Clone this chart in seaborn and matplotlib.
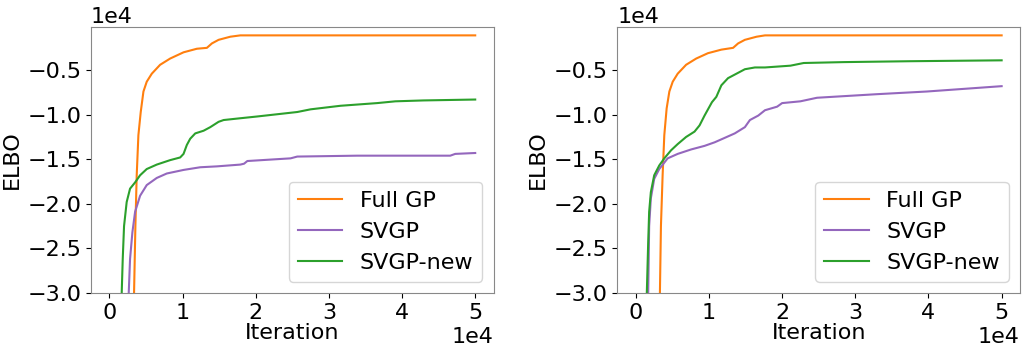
import matplotlib
matplotlib.use("Agg")
import matplotlib.pyplot as plt
from matplotlib.ticker import MultipleLocator
import seaborn as sns
import pandas as pd

# left panel
left_full_x = [0, 3380, 3560, 3740, 3970, 4290, 4660, 5110, 5800, 6940, 8310, 10140, 11960, 13330, 14020, 14930,
               16530, 17900, 50000]
left_full_y = [-200000, -29900, -22500, -16800, -12300, -9700, -7400, -6300, -5400, -4400, -3700, -3000, -2600,
               -2500, -2000, -1600, -1250, -1100, -1100]
left_svgp_x = [0, 2650, 2830, 3150, 3520, 4200, 5110, 6480, 7850, 10140, 12420, 14700, 17900, 18410, 18860, 24770,
               25680, 33860, 46590, 47270, 50000]
left_svgp_y = [-200000, -30000, -26200, -23200, -20900, -19100, -17900, -17100, -16600, -16200, -15900, -15800,
               -15600, -15500, -15200, -14900, -14700, -14600, -14600, -14400, -14300]
left_new_x = [0, 1690, 1830, 2010, 2370, 2830, 3520, 4200, 5110, 6480, 8310, 9680, 10140, 10590, 11050, 11740, 12880,
              13790, 14930, 15620, 17900, 20230, 25680, 27500, 31590, 36590, 39090, 42950, 50000]
left_new_y = [-200000, -30000, -26200, -22500, -19800, -18300, -17600, -16800, -16100, -15600, -15100, -14800,
              -14400, -13400, -12700, -12100, -11800, -11400, -10800, -10600, -10400, -10200, -9700, -9400, -9000,
              -8700, -8500, -8400, -8300]

# right panel
right_full_x = [0, 3300, 3440, 3670, 3900, 4220, 4590, 5050, 5730, 6880, 8260, 9860, 11700, 13300, 13990, 14910,
                16510, 17660, 50000]
right_full_y = [-200000, -30000, -22500, -16800, -12300, -9300, -7400, -6300, -5400, -4400, -3700, -3100, -2700,
                -2500, -2000, -1600, -1250, -1100, -1100]
right_svgp_x = [0, 1700, 1830, 2060, 2520, 3210, 4360, 5730, 7570, 9400, 10780, 12160, 13530, 14910, 15600, 16740,
                17660, 19320, 20000, 22500, 24770, 32950, 39770, 50000]
right_svgp_y = [-200000, -30000, -22500, -19400, -17200, -16100, -14900, -14400, -13900, -13500, -13100, -12600,
                -12100, -11400, -10600, -10100, -9500, -9100, -8700, -8500, -8100, -7700, -7400, -6800]
right_new_x = [0, 1510, 1700, 1830, 2060, 2520, 3210, 3900, 4820, 5730, 6880, 8030, 8720, 9400, 10410, 11010, 11700,
               12610, 13990, 14910, 16280, 17660, 21140, 22950, 28410, 37500, 50000]
right_new_y = [-200000, -30000, -24300, -20900, -18700, -16800, -15700, -14900, -14000, -13300, -12500, -11900,
               -11200, -10100, -8600, -8000, -6700, -5900, -5300, -4900, -4700, -4700, -4500, -4200, -4100, -4000,
               -3900]

methods = ["Full GP", "SVGP", "SVGP-new"]
palette = {"Full GP": "#ff7f0e", "SVGP": "#9467bd", "SVGP-new": "#2ca02c"}


def make_frame(series):
    parts = []
    for name, (xs, ys) in zip(methods, series):
        parts.append(pd.DataFrame({"Iteration": xs, "ELBO": ys, "method": name}))
    return pd.concat(parts, ignore_index=True)


panels = [
    make_frame([(left_full_x, left_full_y), (left_svgp_x, left_svgp_y), (left_new_x, left_new_y)]),
    make_frame([(right_full_x, right_full_y), (right_svgp_x, right_svgp_y), (right_new_x, right_new_y)]),
]

plt.rcParams["font.size"] = 16
fig, axes = plt.subplots(1, 2, figsize=(10.23, 3.45), dpi=100)
fig.subplots_adjust(left=0.089, right=0.997, top=0.922, bottom=0.151, wspace=0.308)

for ax, df in zip(axes, panels):
    sns.lineplot(data=df, x="Iteration", y="ELBO", hue="method", hue_order=methods,
                 palette=palette, sort=False, estimator=None, linewidth=1.5, ax=ax)
    ax.set_ylim(-30000, -150)
    ax.yaxis.set_major_locator(MultipleLocator(5000))
    ax.ticklabel_format(style="sci", axis="both", scilimits=(0, 0))
    ax.set_xlabel("Iteration", labelpad=0)
    ax.set_ylabel("ELBO")
    ax.legend(loc="lower right", fontsize=16)
    for sp in ax.spines.values():
        sp.set_color("#888888")

fig.savefig("out.png", dpi=100)
